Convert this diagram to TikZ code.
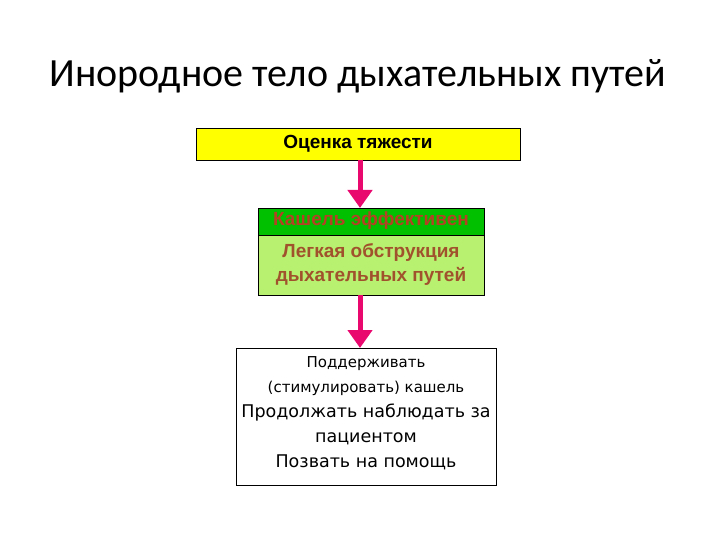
\documentclass[tikz,border=0pt]{standalone}
\usepackage{fontspec}
\setmainfont{Liberation Sans}
\newfontfamily\titlefont{Carlito}
\newfontfamily\dvfont{DejaVu Sans}
\usetikzlibrary{arrows.meta}
\definecolor{pinkarr}{HTML}{E8086E}
\definecolor{ybox}{HTML}{FFFF00}
\definecolor{ghead}{HTML}{00C000}
\definecolor{gbody}{HTML}{B8F070}
\definecolor{btxt}{HTML}{A0522D}
\tikzset{box/.style={draw=black,line width=0.8pt},
 arr/.style={draw=pinkarr,line width=5pt,-{Triangle[length=18pt,width=24pt]}},
 bt/.style={font=\fontsize{19}{24}\selectfont\bfseries}}
\begin{document}
\begin{tikzpicture}[x=1pt,y=-1pt]
\useasboundingbox (0,0) rectangle (720,540);
\node (title) at (358,76) {\titlefont\fontsize{40}{46}\selectfont Инородное тело дыхательных путей};
\draw[box,fill=ybox] (196,128) rectangle (520,160);
\node[bt] (a) at (358,144) {Оценка тяжести};
\coordinate (a1) at (360,160);
\draw[box,fill=ghead] (258,208) rectangle (484,235);
\draw[box,fill=gbody] (258,235) rectangle (484,295);
\node[bt,text=btxt!80!red] (bh) at (371,221) {Кашель эффективен};
\node[bt,align=center,text=btxt] (b) at (371,265) {Легкая обструкция\\ дыхательных путей};
\coordinate (b0) at (360,208);
\coordinate (b1) at (360,295);
\coordinate (c0) at (360,348);
\draw[box,fill=white] (236,348) rectangle (496,485);
\node (c) at (366,413) [align=center,font=\dvfont\fontsize{15}{25}\selectfont] {{\fontsize{15}{21}\selectfont Поддерживать}\\{\fontsize{15}{21}\selectfont(стимулировать) кашель}\\
{\fontsize{17.5}{25}\selectfont Продолжать наблюдать за}\\{\fontsize{17.5}{25}\selectfont пациентом}\\{\fontsize{17.5}{24}\selectfont Позвать на помощь}};
\draw[arr] (a1) -- (b0);
\draw[arr] (b1) -- (c0);
\end{tikzpicture}
\end{document}
